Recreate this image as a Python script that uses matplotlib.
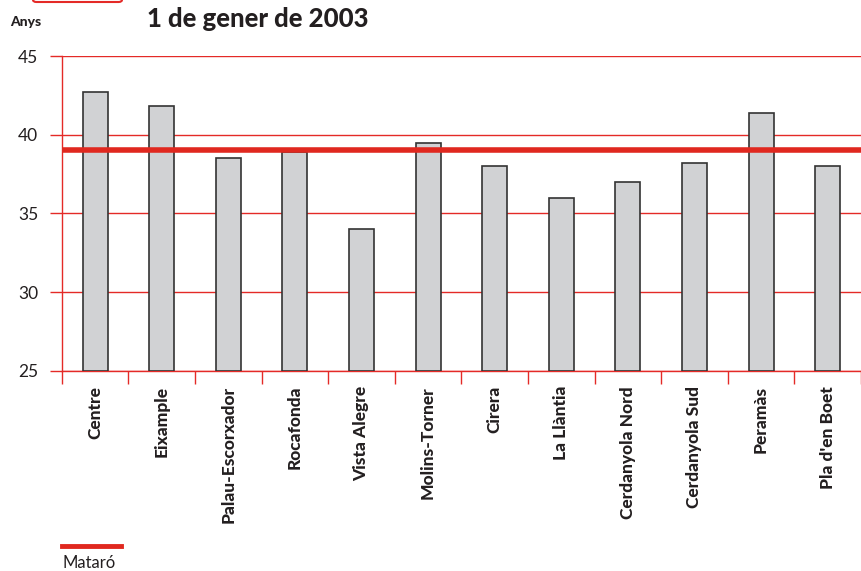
import matplotlib.pyplot as plt
from matplotlib.patches import FancyBboxPatch
from matplotlib.ticker import FixedLocator

plt.rcParams['font.family'] = ['Lato', 'DejaVu Sans']

barris = ['Centre', 'Eixample', 'Palau-Escorxador', 'Rocafonda', 'Vista Alegre',
          'Molins-Torner', 'Cirera', 'La Llàntia', 'Cerdanyola Nord',
          'Cerdanyola Sud', 'Peramàs', "Pla d'en Boet"]
edat_mitjana = [42.7, 41.8, 38.5, 38.9, 34.0, 39.5, 38.0, 36.0, 37.0, 38.2, 41.4, 38.0]
mataro = 39.0
y_ticks = [25, 30, 35, 40, 45]

red = '#e42a27'

fig = plt.figure(figsize=(8.61, 5.71), dpi=100)
ax = fig.add_axes([0.0717, 0.3508, 0.9283, 0.5511])

x = list(range(len(barris)))
ax.bar(x, [v - 25 for v in edat_mitjana], bottom=25, width=0.375,
       color='#d1d2d4', edgecolor='#333333', linewidth=1.2, zorder=3)
ax.axhline(mataro, color='#e0281f', linewidth=4, zorder=4)

ax.set_xlim(-0.5, len(barris) - 0.5)
ax.set_ylim(25, 45)
ax.set_yticks(y_ticks)
ax.set_yticklabels([str(t) for t in y_ticks], fontsize=12.5, color='#231f20')
ax.yaxis.grid(True, color=red, linewidth=1.0, zorder=1)
ax.tick_params(axis='y', length=9, color=red, width=1.0, pad=8)

ax.set_xticks(x)
ax.set_xticklabels(barris, rotation=90, fontsize=12.5, fontweight='black', color='#231f20')
ax.tick_params(axis='x', which='major', length=0, pad=11)
ax.xaxis.set_minor_locator(FixedLocator([i - 0.5 for i in range(len(barris) + 1)]))
ax.tick_params(axis='x', which='minor', length=9, color=red, width=1.0)

for s in ['top', 'right']:
    ax.spines[s].set_visible(False)
for s in ['left', 'bottom']:
    ax.spines[s].set_color(red)
    ax.spines[s].set_linewidth(1.0)

# title (first line cut off at the top in the source)
fig.text(147 / 861, 1 - 19 / 571, '1 de gener de 2003', fontsize=18.5, fontweight='black',
         color='#231f20', ha='left', va='center')
fig.text(10 / 861, 1 - 22 / 571, 'Anys', fontsize=10, fontweight='black',
         color='#231f20', ha='left', va='center')
fig.patches.append(FancyBboxPatch((33 / 861, 1 - 2 / 571), 89 / 861, 30 / 571,
                                  boxstyle='round,pad=0,rounding_size=0.004',
                                  transform=fig.transFigure, facecolor='white',
                                  edgecolor=red, linewidth=1.5))

# legend
fig.add_artist(plt.Line2D([62 / 861, 121 / 861], [1 - 546 / 571, 1 - 546 / 571],
                          transform=fig.transFigure, color='#e0281f', linewidth=3.5))
fig.text(62 / 861, 1 - 563 / 571, 'Mataró', fontsize=12, color='#231f20',
         ha='left', va='center')

fig.savefig('out.png', dpi=100)
